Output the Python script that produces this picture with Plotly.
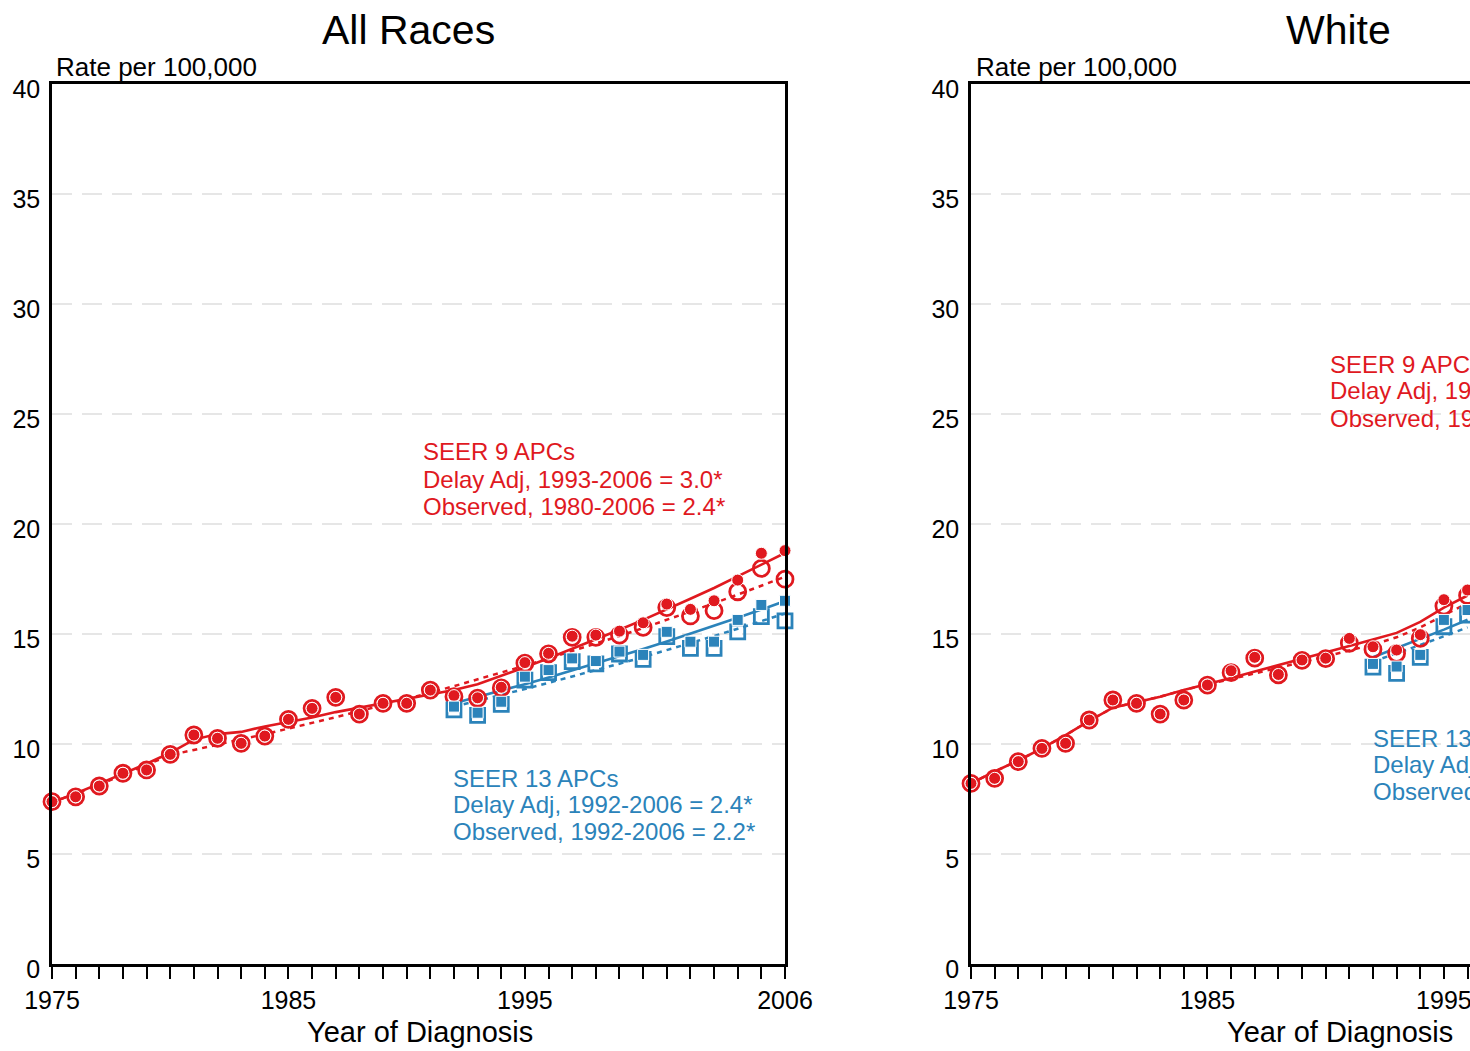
import plotly.graph_objects as go

# ---------------- data ----------------
years_all = list(range(1975, 2007))
years13_all = list(range(1992, 2007))

# All Races, SEER 9
s9_all_delay = [7.38, 7.6, 8.09, 8.67, 8.82, 9.53, 10.41, 10.26, 10.03, 10.36, 11.12, 11.62,
                12.12, 11.36, 11.85, 11.85, 12.45, 12.2, 12.1, 12.58, 13.7, 14.12, 14.9, 14.95,
                15.13, 15.51, 16.36, 16.12, 16.51, 17.45, 18.67, 18.79]
s9_all_obs = [7.38, 7.6, 8.09, 8.67, 8.82, 9.53, 10.41, 10.26, 10.03, 10.36, 11.12, 11.62,
              12.12, 11.36, 11.85, 11.85, 12.45, 12.15, 12.08, 12.55, 13.67, 14.1, 14.85, 14.85,
              14.95, 15.3, 16.2, 15.82, 16.06, 16.92, 17.98, 17.49]
s9_all_delay_fit = [7.35, 7.75, 8.2, 8.65, 9.1, 9.6, 10.2, 10.45, 10.55, 10.8, 11.0, 11.2,
                    11.45, 11.65, 11.85, 12.05, 12.25, 12.45, 12.72, 13.1, 13.49, 13.9, 14.32,
                    14.75, 15.19, 15.64, 16.11, 16.6, 17.09, 17.61, 18.13, 18.68]
s9_all_obs_fit = [7.35, 7.75, 8.15, 8.6, 9.05, 9.5, 9.73, 9.96, 10.2, 10.45, 10.7, 10.95,
                  11.22, 11.49, 11.76, 12.05, 12.33, 12.63, 12.93, 13.24, 13.56, 13.89, 14.22,
                  14.56, 14.91, 15.27, 15.64, 16.01, 16.4, 16.79, 17.19, 17.6]

# All Races, SEER 13
s13_all_delay = [11.7, 11.42, 11.92, 13.06, 13.36, 13.89, 13.77, 14.2, 14.05, 15.1, 14.65,
                 14.65, 15.64, 16.32, 16.51]
s13_all_obs = [11.55, 11.3, 11.8, 12.9, 13.24, 13.74, 13.64, 14.09, 13.85, 14.88, 14.35,
               14.35, 15.1, 15.79, 15.6]
s13_all_delay_fit = [11.85, 12.13, 12.42, 12.72, 13.02, 13.34, 13.66, 13.98, 14.32, 14.66,
                     15.01, 15.37, 15.74, 16.11, 16.5]
s13_all_obs_fit = [11.7, 11.96, 12.23, 12.5, 12.78, 13.06, 13.35, 13.65, 13.95, 14.26,
                   14.58, 14.91, 15.24, 15.58, 15.93]

# White (only the visible part of the panel)
years_wh = list(range(1975, 1997))
years13_wh = list(range(1992, 1997))
s9_wh_delay = [8.21, 8.44, 9.2, 9.8, 10.03, 11.09, 12.0, 11.85, 11.36, 12.0, 12.68, 13.33,
               13.94, 13.16, 13.82, 13.9, 14.8, 14.42, 14.27, 14.97, 16.56, 17.0]
s9_wh_obs = [8.21, 8.44, 9.2, 9.8, 10.03, 11.09, 12.0, 11.85, 11.36, 12.0, 12.68, 13.24,
             13.9, 13.14, 13.8, 13.88, 14.58, 14.3, 14.12, 14.8, 16.27, 16.75]
s9_wh_delay_fit = [8.21, 8.75, 9.25, 9.8, 10.4, 11.05, 11.65, 11.9, 12.15, 12.45, 12.72, 13.0,
                   13.3, 13.58, 13.87, 14.15, 14.45, 14.75, 15.05, 15.55, 16.2, 16.75]
s9_wh_obs_fit = [8.21, 8.75, 9.25, 9.8, 10.4, 11.05, 11.65, 11.9, 12.15, 12.45, 12.72, 12.95,
                 13.2, 13.45, 13.72, 13.98, 14.25, 14.52, 14.85, 15.3, 15.85, 16.4]
s13_wh_delay = [13.64, 13.52, 14.05, 15.64, 16.09]
s13_wh_obs = [13.49, 13.21, 13.94, 15.33, 15.86]
s13_wh_delay_fit = [13.94, 14.35, 14.76, 15.2, 15.65]
s13_wh_obs_fit = [13.75, 14.12, 14.5, 14.9, 15.3]

x_tick_years = list(range(1975, 2007))
x_tick_labels = {1975: "1975", 1985: "1985", 1995: "1995", 2006: "2006"}
y_ticks = [0, 5, 10, 15, 20, 25, 30, 35, 40]

panel_titles = ["All Races", "White"]
y_title = "Rate per 100,000"
x_title = "Year of Diagnosis"
left_s9_text = ["SEER 9 APCs", "Delay Adj, 1993-2006 = 3.0*", "Observed, 1980-2006 = 2.4*"]
left_s13_text = ["SEER 13 APCs", "Delay Adj, 1992-2006 = 2.4*", "Observed, 1992-2006 = 2.2*"]
right_s9_text = ["SEER 9 APC", "Delay Adj, 19", "Observed, 19"]
right_s13_text = ["SEER 13", "Delay Adj", "Observed"]

# ---------------- style ----------------
RED = "#E0191F"
BLUE = "#2B83BA"
FONT = "Liberation Sans, Arial, sans-serif"
W, H = 1470, 1051

def px_x(p):
    return p / W

def px_y(p):
    return 1 - p / H

fig = go.Figure()

def add_group(xa, ya, yrs, yrs13, d9, o9, d9f, o9f, d13, o13, d13f, o13f):
    # fitted lines
    fig.add_trace(go.Scatter(x=yrs, y=o9f, mode="lines", xaxis=xa, yaxis=ya,
                             line=dict(color=RED, width=2.5, dash="5px,5px")))
    fig.add_trace(go.Scatter(x=yrs, y=d9f, mode="lines", xaxis=xa, yaxis=ya,
                             line=dict(color=RED, width=2.6)))
    fig.add_trace(go.Scatter(x=yrs13, y=o13f, mode="lines", xaxis=xa, yaxis=ya,
                             line=dict(color=BLUE, width=2.5, dash="5px,5px")))
    fig.add_trace(go.Scatter(x=yrs13, y=d13f, mode="lines", xaxis=xa, yaxis=ya,
                             line=dict(color=BLUE, width=2.6)))
    # observed (open)
    fig.add_trace(go.Scatter(x=yrs, y=o9, mode="markers", xaxis=xa, yaxis=ya, cliponaxis=False,
                             marker=dict(symbol="circle-open", size=16, color=RED,
                                         line=dict(width=2.8, color=RED))))
    fig.add_trace(go.Scatter(x=yrs13, y=o13, mode="markers", xaxis=xa, yaxis=ya, cliponaxis=False,
                             marker=dict(symbol="square-open", size=14, color=BLUE,
                                         line=dict(width=2.8, color=BLUE))))
    # delay adjusted (filled)
    fig.add_trace(go.Scatter(x=yrs, y=d9, mode="markers", xaxis=xa, yaxis=ya, cliponaxis=False,
                             marker=dict(symbol="circle", size=12, color=RED,
                                         line=dict(width=1, color="white"))))
    fig.add_trace(go.Scatter(x=yrs13, y=d13, mode="markers", xaxis=xa, yaxis=ya, cliponaxis=False,
                             marker=dict(symbol="square", size=11, color=BLUE,
                                         line=dict(width=1, color="white"))))

add_group("x", "y", years_all, years13_all, s9_all_delay, s9_all_obs, s9_all_delay_fit,
          s9_all_obs_fit, s13_all_delay, s13_all_obs, s13_all_delay_fit, s13_all_obs_fit)
add_group("x2", "y2", years_wh, years13_wh, s9_wh_delay, s9_wh_obs, s9_wh_delay_fit,
          s9_wh_obs_fit, s13_wh_delay, s13_wh_obs, s13_wh_delay_fit, s13_wh_obs_fit)

per_year = (785 - 52) / 31.0
right_end_year = 1975 + (1470 - 971) / per_year

tick_text = [x_tick_labels.get(y, "") for y in x_tick_years]
xcommon = dict(tickmode="array", tickvals=x_tick_years, ticktext=tick_text,
               ticks="outside", ticklen=12, tickwidth=2, tickcolor="black",
               showline=True, linecolor="black", linewidth=2.5, showgrid=False,
               zeroline=False, tickfont=dict(size=25, color="black", family=FONT),
               automargin=False, ticklabeloverflow="allow")
ycommon = dict(range=[0, 40], tickmode="array", tickvals=y_ticks, ticks="",
               showline=True, linecolor="black", linewidth=2.5,
               showgrid=True, gridcolor="#E6E6E6", gridwidth=2, griddash="20px,10px",
               zeroline=False, tickfont=dict(size=25, color="black", family=FONT),
               ticklabelstandoff=4, ticklabelshift=5, automargin=False,
               ticklabeloverflow="allow")

ydom = [px_y(964), px_y(84)]
fig.update_layout(
    width=W, height=H, margin=dict(l=0, r=0, t=0, b=0, pad=0), autosize=False,
    paper_bgcolor="white", plot_bgcolor="white", showlegend=False,
    font=dict(family=FONT, color="black"),
    xaxis=dict(xcommon, domain=[px_x(52), px_x(785)], range=[1975, 2006], anchor="y", mirror=True),
    yaxis=dict(ycommon, domain=ydom, anchor="x", mirror=True),
    xaxis2=dict(xcommon, domain=[px_x(971), 1.0], range=[1975, right_end_year], anchor="y2", mirror=True),
    yaxis2=dict(ycommon, domain=ydom, anchor="x2", mirror=False),
)

ann = []
def txt(text, x, y, size, color="black", xanchor="left"):
    ann.append(dict(text=text, x=px_x(x), y=px_y(y), xref="paper", yref="paper",
                    xanchor=xanchor, yanchor="middle", showarrow=False,
                    font=dict(size=size, color=color, family=FONT)))

txt(panel_titles[0], 408, 30, 41, xanchor="center")
txt(panel_titles[1], 1338, 30, 41, xanchor="center")
txt(y_title, 54, 67, 26)
txt(y_title, 974, 67, 26)
txt(x_title, 420, 1032, 29, xanchor="center")
txt(x_title, 1340, 1032, 29, xanchor="center")
for i, t in enumerate(left_s9_text):
    txt(t, 421, 452 + 27 * i, 24, RED)
for i, t in enumerate(left_s13_text):
    txt(t, 451, 778 + 26.5 * i, 24, BLUE)
for i, t in enumerate(right_s9_text):
    txt(t, 1328, 364 + 27 * i, 24, RED)
for i, t in enumerate(right_s13_text):
    txt(t, 1371, 738 + 26.5 * i, 24, BLUE)
fig.update_layout(annotations=ann)

# remove the default page margin so the figure sits at the window's top-left corner
page_js = ("document.body.style.margin='0';document.body.style.overflow='hidden';"
           "document.documentElement.style.overflow='hidden';")
fig.write_html("out.html", post_script=page_js, config={"displayModeBar": False})
